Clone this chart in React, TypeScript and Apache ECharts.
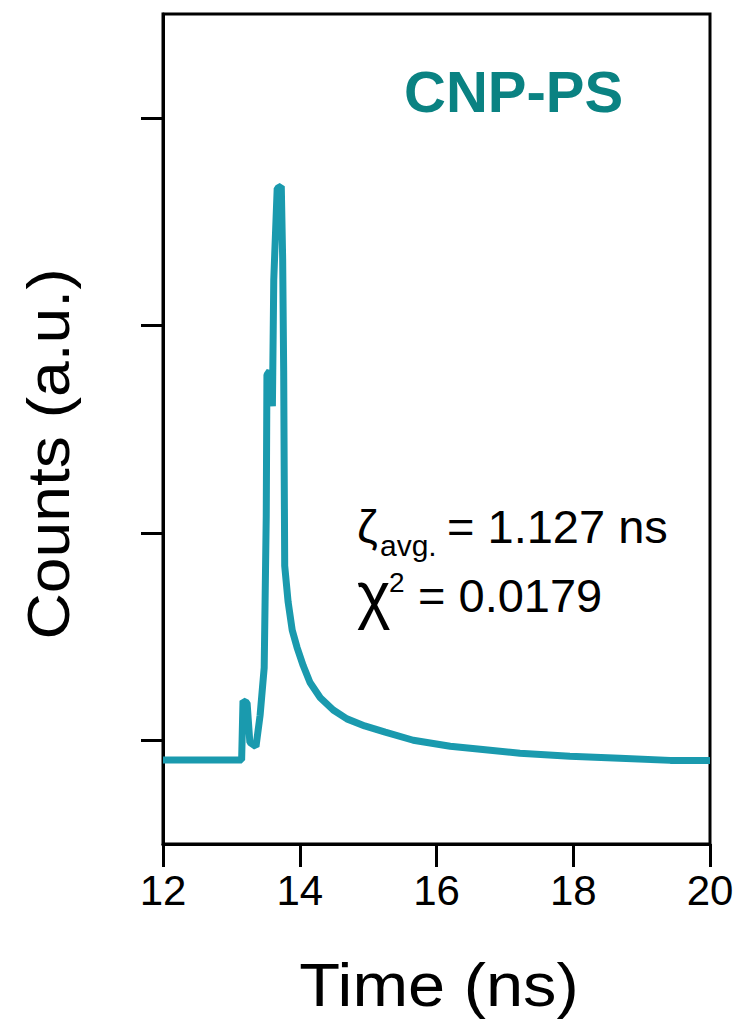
import React, { useEffect, useRef } from "react";
import * as echarts from "echarts";

const timeNs = [12.0, 13.15, 13.17, 13.23, 13.27, 13.36, 13.42, 13.48, 13.51, 13.52, 13.56, 13.6, 13.62, 13.67, 13.73, 13.75, 13.765, 13.78, 13.83, 13.89, 13.96, 14.05, 14.15, 14.3, 14.49, 14.69, 14.95, 15.25, 15.66, 16.2, 16.64, 17.22, 17.95, 18.68, 19.42, 20.0];
const counts = [0.905, 0.905, 1.19, 1.18, 0.99, 0.97, 1.12, 1.35, 2.08, 2.76, 2.78, 2.61, 3.22, 3.66, 3.67, 3.32, 2.78, 1.84, 1.666, 1.53, 1.448, 1.36, 1.278, 1.205, 1.146, 1.103, 1.069, 1.039, 1.0, 0.971, 0.957, 0.937, 0.923, 0.913, 0.903, 0.903];
const yTicks = [1, 2, 3, 4];
const xAxisName = "Time (ns)";
const yAxisName = "Counts (a.u.)";
const sampleName = "CNP-PS";
const tauLabel = "ζ";
const tauSub = "avg.";
const tauValue = "= 1.127 ns";
const chiLabel = "χ";
const chiSup = "2";
const chiValue = "= 0.0179";

const FONT = "'Liberation Sans', Arial, Helvetica, sans-serif";

export default function App() {
  const ref = useRef<HTMLDivElement>(null);
  useEffect(() => {
    if (!ref.current) return;
    const chart = echarts.init(ref.current, undefined, { renderer: "svg" });
    const data = timeNs.map((t, i) => [t, counts[i]]);
    chart.setOption({
      animation: false,
      backgroundColor: "#ffffff",
      grid: { left: 163, right: 33, top: 14, bottom: 180, show: true, borderColor: "#000", borderWidth: 3, backgroundColor: "transparent" },
      xAxis: {
        type: "value",
        min: 12,
        max: 20,
        interval: 2,
        axisLine: { show: true, lineStyle: { color: "#000", width: 3 } },
        axisTick: { show: true, inside: false, length: 23, lineStyle: { color: "#000", width: 3 } },
        axisLabel: { show: true, margin: 25, fontSize: 42, color: "#000", fontFamily: FONT },
        splitLine: { show: false },
      },
      yAxis: {
        type: "value",
        min: 0.5,
        max: 4.5,
        axisLine: { show: true, lineStyle: { color: "#000", width: 3 } },
        axisTick: { show: true, inside: false, length: 22, customValues: yTicks, lineStyle: { color: "#000", width: 3 } },
        axisLabel: { show: false, customValues: yTicks },
        splitLine: { show: false },
      },
      series: [
        {
          type: "line",
          data,
          showSymbol: false,
          symbol: "none",
          lineStyle: { color: "#1a9aae", width: 7, join: "bevel" },
        },
      ],
      graphic: [
        { type: "text", x: 439, y: 985, scaleX: 1.095, style: { text: xAxisName, font: `61px ${FONT}`, fill: "#000", align: "center", verticalAlign: "middle" } },
        { type: "text", x: 48, y: 454, rotation: Math.PI / 2, scaleX: 1.07, style: { text: yAxisName, font: `60px ${FONT}`, fill: "#000", align: "center", verticalAlign: "middle" } },
        { type: "text", left: 404, top: 62, style: { text: sampleName, font: `bold 58px ${FONT}`, fill: "#0a8282" } },
        { type: "text", left: 357, top: 503, style: { text: tauLabel, font: `47px ${FONT}`, fill: "#000" } },
        { type: "text", left: 380, top: 530, style: { text: tauSub, font: `30px ${FONT}`, fill: "#000" } },
        { type: "text", left: 447, top: 503, style: { text: tauValue, font: `47px ${FONT}`, fill: "#000" } },
        { type: "text", left: 357, top: 563, style: { text: chiLabel, font: `64px ${FONT}`, fill: "#000" } },
        { type: "text", left: 389, top: 568, style: { text: chiSup, font: `28px ${FONT}`, fill: "#000" } },
        { type: "text", left: 418, top: 572, style: { text: chiValue, font: `47px ${FONT}`, fill: "#000" } },
      ],
    });
    return () => chart.dispose();
  }, []);
  return <div ref={ref} style={{ position: "fixed", left: 0, top: 0, width: 743, height: 1024 }} />;
}
